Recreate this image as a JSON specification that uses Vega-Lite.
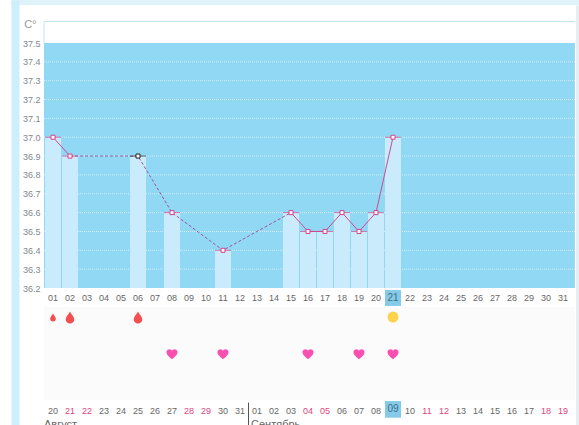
{"$schema":"https://vega.github.io/schema/vega-lite/v6.json","width":568,"height":425,"padding":{"left":11,"top":0,"right":0,"bottom":0},"autosize":{"type":"none"},"background":"#ffffff","config":{"view":{"stroke":null},"font":"Liberation Sans"},
"datasets":{
"temps":[{"day":1,"temp":37.0,"marked":"no"},{"day":2,"temp":36.9,"marked":"no"},{"day":6,"temp":36.9,"marked":"yes"},{"day":8,"temp":36.6,"marked":"no"},{"day":11,"temp":36.4,"marked":"no"},{"day":15,"temp":36.6,"marked":"no"},{"day":16,"temp":36.5,"marked":"no"},{"day":17,"temp":36.5,"marked":"no"},{"day":18,"temp":36.6,"marked":"no"},{"day":19,"temp":36.5,"marked":"no"},{"day":20,"temp":36.6,"marked":"no"},{"day":21,"temp":37.0,"marked":"no"}],
"solid":[{"seg":"a","day":1,"temp":37.0},{"seg":"a","day":2,"temp":36.9},{"seg":"b","day":15,"temp":36.6},{"seg":"b","day":16,"temp":36.5},{"seg":"b","day":17,"temp":36.5},{"seg":"b","day":18,"temp":36.6},{"seg":"b","day":19,"temp":36.5},{"seg":"b","day":20,"temp":36.6},{"seg":"b","day":21,"temp":37.0}],
"dashed":[{"day":2,"temp":36.9},{"day":6,"temp":36.9},{"day":8,"temp":36.6},{"day":11,"temp":36.4},{"day":15,"temp":36.6}],
"grid":[{"t":36.3,"from":0.47,"to":31.7},{"t":36.4,"from":0.47,"to":31.7},{"t":36.5,"from":0.47,"to":31.7},{"t":36.6,"from":0.47,"to":31.7},{"t":36.7,"from":0.47,"to":31.7},{"t":36.8,"from":0.47,"to":31.7},{"t":36.9,"from":0.47,"to":31.7},{"t":37.0,"from":0.47,"to":31.7},{"t":37.1,"from":0.47,"to":31.7},{"t":37.2,"from":0.47,"to":31.7},{"t":37.3,"from":0.47,"to":31.7},{"t":37.4,"from":0.47,"to":31.7}],
"calendar":[{"day":1,"label":"01","date":"20","off":"n"},{"day":2,"label":"02","date":"21","off":"y"},{"day":3,"label":"03","date":"22","off":"y"},{"day":4,"label":"04","date":"23","off":"n"},{"day":5,"label":"05","date":"24","off":"n"},{"day":6,"label":"06","date":"25","off":"n"},{"day":7,"label":"07","date":"26","off":"n"},{"day":8,"label":"08","date":"27","off":"n"},{"day":9,"label":"09","date":"28","off":"y"},{"day":10,"label":"10","date":"29","off":"y"},{"day":11,"label":"11","date":"30","off":"n"},{"day":12,"label":"12","date":"31","off":"n"},{"day":13,"label":"13","date":"01","off":"n"},{"day":14,"label":"14","date":"02","off":"n"},{"day":15,"label":"15","date":"03","off":"n"},{"day":16,"label":"16","date":"04","off":"y"},{"day":17,"label":"17","date":"05","off":"y"},{"day":18,"label":"18","date":"06","off":"n"},{"day":19,"label":"19","date":"07","off":"n"},{"day":20,"label":"20","date":"08","off":"n"},{"day":21,"label":"21","date":"09","off":"n"},{"day":22,"label":"22","date":"10","off":"n"},{"day":23,"label":"23","date":"11","off":"y"},{"day":24,"label":"24","date":"12","off":"y"},{"day":25,"label":"25","date":"13","off":"n"},{"day":26,"label":"26","date":"14","off":"n"},{"day":27,"label":"27","date":"15","off":"n"},{"day":28,"label":"28","date":"16","off":"n"},{"day":29,"label":"29","date":"17","off":"n"},{"day":30,"label":"30","date":"18","off":"y"},{"day":31,"label":"31","date":"19","off":"y"}]
},
"resolve":{"scale":{"x":"independent","y":"independent","color":"independent","stroke":"independent","size":"independent"},"axis":{"x":"independent","y":"independent"}},
"layer":[
{"data":{"values":[{"fx":0,"fy":0}]},"mark":{"type":"point","opacity":0},"encoding":{
"x":{"field":"fx","type":"quantitative","scale":{"domain":[0,1],"range":[0,568],"nice":false,"zero":false},"axis":{"orient":"top","offset":-2,"domainWidth":5,"domainColor":"#dff3fb","ticks":false,"labels":false,"title":null,"grid":false}},
"y":{"field":"fy","type":"quantitative","scale":{"domain":[0,1],"range":[425,0],"nice":false,"zero":false},"axis":{"orient":"left","offset":-4,"domainWidth":8,"domainColor":"#cdeefb","ticks":false,"labels":false,"title":null,"grid":false}}}},
{"data":{"values":[{"fy":0}]},"mark":{"type":"point","opacity":0},"encoding":{
"y":{"field":"fy","type":"quantitative","scale":{"domain":[0,1],"range":[425,5],"nice":false,"zero":false},"axis":{"orient":"right","offset":-2,"domainWidth":3,"domainColor":"#e6eef1","ticks":false,"labels":false,"title":null,"grid":false}}}},
{"layer":[
{"data":{"values":[{"from":0.47,"to":31.7,"low":36.2,"high":37.5}]},"mark":{"type":"rect","color":"#90d8f3"},"encoding":{
"x":{"field":"from","type":"quantitative","scale":{"domain":[1,31],"range":[42,552],"nice":false,"zero":false,"padding":0},"axis":null},"x2":{"field":"to"},
"y":{"field":"low","type":"quantitative","scale":{"domain":[36.2,37.5],"range":[288,43],"nice":false,"zero":false,"padding":0},"axis":{"orient":"left","offset":-33,"tickCount":14,"format":".1f","domain":false,"ticks":false,"grid":false,"labelOverlap":false,"labelBound":false,"labelFlush":false,"labelColor":"#808a8e","labelFontSize":9,"labelFont":"Liberation Sans","labelPadding":4,"title":"C°","titleAngle":0,"titleColor":"#999999","titleFontSize":11,"titleFontWeight":"normal","titleFont":"Liberation Sans","titleX":-8,"titleY":24,"titleAlign":"right","titleBaseline":"middle"}},"y2":{"field":"high"}}},
{"data":{"name":"grid"},"mark":{"type":"rule","color":"#ffffff","strokeWidth":1,"strokeDash":[1,1],"opacity":0.6},"encoding":{"x":{"field":"from","type":"quantitative"},"x2":{"field":"to"},"y":{"field":"t","type":"quantitative"}}},
{"data":{"values":[{"from":0.47,"to":31.7,"t":37.614}]},"mark":{"type":"rule","color":"#c5e3ea","strokeWidth":1},"encoding":{"x":{"field":"from","type":"quantitative"},"x2":{"field":"to"},"y":{"field":"t","type":"quantitative"}}},
{"data":{"values":[{"from":0.47,"t":37.614,"b":37.5}]},"mark":{"type":"rule","color":"#c5e3ea","strokeWidth":1},"encoding":{"x":{"field":"from","type":"quantitative"},"y":{"field":"t","type":"quantitative"},"y2":{"field":"b"}}},
{"data":{"name":"temps"},"mark":{"type":"bar","size":16,"color":"#c9ebfb","orient":"vertical"},"encoding":{"x":{"field":"day","type":"quantitative"},"y":{"field":"temp","type":"quantitative"},"y2":{"datum":36.2}}},
{"data":{"name":"dashed"},"mark":{"type":"line","color":"#a0559a","strokeWidth":1,"strokeDash":[3,2]},"encoding":{"x":{"field":"day","type":"quantitative"},"y":{"field":"temp","type":"quantitative"}}},
{"data":{"name":"solid"},"mark":{"type":"line","color":"#cf4a94","strokeWidth":1},"encoding":{"x":{"field":"day","type":"quantitative"},"y":{"field":"temp","type":"quantitative"},"detail":{"field":"seg"}}},
{"data":{"name":"temps"},"mark":{"type":"tick","orient":"horizontal","size":16,"thickness":1},"encoding":{"x":{"field":"day","type":"quantitative"},"y":{"field":"temp","type":"quantitative"},"color":{"field":"marked","type":"nominal","scale":{"domain":["no","yes"],"range":["#d8408a","#222222"]},"legend":null}}},
{"data":{"name":"temps"},"mark":{"type":"point","shape":"square","size":16,"filled":true,"fill":"#ffffff","strokeWidth":1,"opacity":1},"encoding":{"x":{"field":"day","type":"quantitative"},"y":{"field":"temp","type":"quantitative"},"stroke":{"field":"marked","type":"nominal","scale":{"domain":["no","yes"],"range":["#d8408a","#222222"]},"legend":null}}}
]},
{"layer":[
{"data":{"values":[{"from":0.47,"to":31.7,"top":1.49,"bottom":6.51}]},"mark":{"type":"rect","color":"#fbfbfb"},"encoding":{
"x":{"field":"from","type":"quantitative","scale":{"domain":[1,31],"range":[42,552],"nice":false,"zero":false,"padding":0},"axis":null},"x2":{"field":"to"},
"y":{"field":"top","type":"quantitative","scale":{"domain":[1,8],"range":[298,427.5],"nice":false,"zero":false,"padding":0},"axis":null},"y2":{"field":"bottom"}}},
{"data":{"values":[{"day":21,"top":0.57,"bottom":1.43},{"day":21,"top":6.57,"bottom":7.47}]},"mark":{"type":"bar","size":16,"color":"#85cbe8","orient":"vertical"},"encoding":{"x":{"field":"day","type":"quantitative"},"y":{"field":"top","type":"quantitative"},"y2":{"field":"bottom"}}},
{"data":{"values":[{"day":12.5,"top":6.65,"bottom":8.1}]},"mark":{"type":"rule","color":"#555555","strokeWidth":1},"encoding":{"x":{"field":"day","type":"quantitative"},"y":{"field":"top","type":"quantitative"},"y2":{"field":"bottom"}}},
{"data":{"name":"calendar"},"transform":[{"filter":"datum.day != 21"}],"mark":{"type":"text","fontSize":9,"color":"#666666","font":"Liberation Sans"},"encoding":{"x":{"field":"day","type":"quantitative"},"y":{"datum":1},"text":{"field":"label"}}},
{"data":{"values":[{"day":21,"label":"21"}]},"mark":{"type":"text","fontSize":10,"color":"#3f6f85","font":"Liberation Sans"},"encoding":{"x":{"field":"day","type":"quantitative"},"y":{"datum":1},"text":{"field":"label"}}},
{"data":{"name":"calendar"},"transform":[{"filter":"datum.day != 21"}],"mark":{"type":"text","fontSize":9,"font":"Liberation Sans"},"encoding":{"x":{"field":"day","type":"quantitative"},"y":{"datum":7.1},"text":{"field":"date"},"color":{"field":"off","type":"nominal","scale":{"domain":["n","y"],"range":["#666666","#e0447e"]},"legend":null}}},
{"data":{"values":[{"day":21,"date":"09"}]},"mark":{"type":"text","fontSize":10,"color":"#3f6f85","font":"Liberation Sans"},"encoding":{"x":{"field":"day","type":"quantitative"},"y":{"datum":6.98},"text":{"field":"date"}}},
{"data":{"values":[{"month":"Август","day":0.47},{"month":"Сентябрь","day":12.65}]},"mark":{"type":"text","fontSize":11,"align":"left","color":"#666666","font":"Liberation Sans"},"encoding":{"x":{"field":"day","type":"quantitative"},"y":{"datum":7.85},"text":{"field":"month"}}},
{"data":{"values":[{"day":1,"flow":1},{"day":2,"flow":2},{"day":6,"flow":2}]},"mark":{"type":"point","filled":true,"opacity":1,"color":"#f25050","shape":"M0,-1 C0.2,-0.55 0.7,-0.2 0.72,0.35 C0.72,0.75 0.4,1 0,1 C-0.4,1 -0.72,0.75 -0.72,0.35 C-0.7,-0.2 -0.2,-0.55 0,-1 Z"},"encoding":{"x":{"field":"day","type":"quantitative"},"y":{"datum":2.05},"size":{"field":"flow","type":"quantitative","scale":{"domain":[1,2],"range":[64,144]},"legend":null}}},
{"data":{"values":[{"day":21}]},"mark":{"type":"point","filled":true,"opacity":1,"shape":"circle","size":120,"color":"#fcd34a"},"encoding":{"x":{"field":"day","type":"quantitative"},"y":{"datum":2.03}}},
{"data":{"values":[{"day":8},{"day":11},{"day":16},{"day":19},{"day":21}]},"mark":{"type":"point","filled":true,"opacity":1,"size":121,"color":"#f84fb0","shape":"M0,0.9 C-0.4,0.55 -1,0.2 -1,-0.35 C-1,-0.75 -0.7,-0.9 -0.45,-0.9 C-0.2,-0.9 -0.05,-0.75 0,-0.6 C0.05,-0.75 0.2,-0.9 0.45,-0.9 C0.7,-0.9 1,-0.75 1,-0.35 C1,0.2 0.4,0.55 0,0.9 Z"},"encoding":{"x":{"field":"day","type":"quantitative"},"y":{"datum":4.04}}}
]}
]}
